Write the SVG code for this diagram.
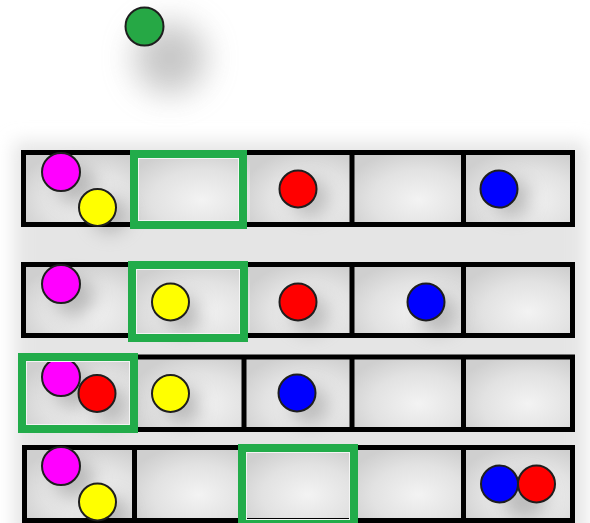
<svg xmlns="http://www.w3.org/2000/svg" width="590" height="523" viewBox="0 0 590 523">
<defs>
<radialGradient id="cellg" cx="0.6" cy="0.65" r="0.7">
<stop offset="0" stop-color="#f3f3f3"/>
<stop offset="0.6" stop-color="#e2e2e2"/>
<stop offset="1" stop-color="#cfcfcf"/>
</radialGradient>
<filter id="blurbg" x="-10%" y="-10%" width="120%" height="120%"><feGaussianBlur stdDeviation="9"/></filter>
<filter id="shad" x="-100%" y="-100%" width="300%" height="300%"><feGaussianBlur stdDeviation="9"/></filter>
<filter id="bigshad" x="-100%" y="-100%" width="300%" height="300%"><feGaussianBlur stdDeviation="16"/></filter>
<style>
.cell{fill:url(#cellg)}
.frame{fill:none;stroke:#000;stroke-width:5}
.div{stroke:#000;stroke-width:5}
.ball{stroke:#1e1e1e;stroke-width:2}
.sh{fill:#8a8a8a;opacity:0.5;filter:url(#shad)}
.sel{fill:none;stroke:#22ac4a;stroke-width:8}
.selin{fill:none;stroke:#f4f4f4;stroke-width:1}
.m{fill:#ff00ff}.y{fill:#ffff00}.r{fill:#ff0000}.b{fill:#0000ff}
</style>
</defs>
<rect width="590" height="523" fill="#ffffff"/>
<rect x="14" y="142" width="572" height="400" fill="#e5e5e5" filter="url(#blurbg)"/>
<g id="ball-top">
<circle cx="170" cy="58" r="36" fill="#9a9a9a" opacity="0.55" filter="url(#bigshad)"/>
<circle class="ball" cx="144.5" cy="26.5" r="19" fill="#26a845" stroke="#4a1a1a"/>
</g>
<g id="row1">
<rect class="cell" x="24" y="153" width="106" height="72"/>
<rect class="cell" x="130" y="153" width="120" height="72"/>
<rect class="cell" x="250" y="153" width="102" height="72"/>
<rect class="cell" x="352" y="153" width="111" height="72"/>
<rect class="cell" x="463" y="153" width="109" height="72"/>
<circle class="sh" cx="76" cy="185" r="20"/><circle class="sh" cx="110" cy="215" r="18"/>
<circle class="sh" cx="310" cy="198" r="19"/><circle class="sh" cx="512" cy="198" r="19"/>
<rect class="frame" x="23.5" y="152.5" width="549" height="72"/>
<line class="div" x1="352" y1="150" x2="352" y2="227"/>
<line class="div" x1="463.5" y1="150" x2="463.5" y2="227"/>
<circle class="ball m" cx="61" cy="172" r="19"/>
<circle class="ball y" cx="97.5" cy="207.5" r="18.5"/>
<circle class="ball r" cx="298" cy="189" r="18.5"/>
<circle class="ball b" cx="499" cy="189" r="18.5"/>
<rect class="sel" x="134" y="154" width="109" height="71"/>
<rect class="selin" x="138.5" y="158.5" width="100" height="62"/>
</g>
<g id="row2">
<rect class="cell" x="24" y="265" width="106" height="72"/>
<rect class="cell" x="130" y="265" width="120" height="72"/>
<rect class="cell" x="250" y="265" width="102" height="72"/>
<rect class="cell" x="352" y="265" width="111" height="72"/>
<rect class="cell" x="463" y="265" width="109" height="72"/>
<circle class="sh" cx="74" cy="297" r="20"/><circle class="sh" cx="183" cy="314" r="18"/>
<circle class="sh" cx="310" cy="314" r="19"/><circle class="sh" cx="438" cy="314" r="19"/>
<rect class="frame" x="23.5" y="264.5" width="549" height="71"/>
<line class="div" x1="352" y1="262" x2="352" y2="338"/>
<line class="div" x1="463.5" y1="262" x2="463.5" y2="338"/>
<circle class="ball m" cx="61" cy="284" r="19"/>
<circle class="ball y" cx="170.5" cy="302" r="18.5"/>
<circle class="ball r" cx="298" cy="302" r="18.5"/>
<circle class="ball b" cx="426" cy="302" r="18.5"/>
<rect class="sel" x="132" y="265" width="112" height="73"/>
<rect class="selin" x="136.5" y="269.5" width="103" height="64"/>
</g>
<g id="row3">
<rect class="cell" x="24" y="357" width="114" height="72"/>
<rect class="cell" x="138" y="357" width="106" height="72"/>
<rect class="cell" x="244" y="357" width="108" height="72"/>
<rect class="cell" x="352" y="357" width="111" height="72"/>
<rect class="cell" x="463" y="357" width="109" height="72"/>
<circle class="sh" cx="74" cy="389" r="20"/><circle class="sh" cx="110" cy="405" r="18"/>
<circle class="sh" cx="183" cy="405" r="18"/><circle class="sh" cx="310" cy="405" r="19"/>
<rect class="frame" x="23.5" y="357" width="549" height="72.5"/>
<line class="div" x1="244" y1="355" x2="244" y2="432"/>
<line class="div" x1="352" y1="355" x2="352" y2="432"/>
<line class="div" x1="463.5" y1="355" x2="463.5" y2="432"/>
<circle class="ball m" cx="61" cy="377" r="19"/>
<circle class="ball r" cx="97" cy="393.5" r="18.5"/>
<circle class="ball y" cx="170.5" cy="393.5" r="18.5"/>
<circle class="ball b" cx="297" cy="393" r="18.5"/>
<rect class="sel" x="22" y="357" width="112" height="72"/>
<rect class="selin" x="26.5" y="361.5" width="103" height="63"/>
</g>
<g id="row4">
<rect class="cell" x="24" y="448" width="110" height="72"/>
<rect class="cell" x="134" y="448" width="108" height="72"/>
<rect class="cell" x="242" y="448" width="110" height="72"/>
<rect class="cell" x="352" y="448" width="111" height="72"/>
<rect class="cell" x="463" y="448" width="109" height="72"/>
<circle class="sh" cx="74" cy="479" r="20"/><circle class="sh" cx="110" cy="514" r="18"/>
<circle class="sh" cx="525" cy="497" r="22"/>
<rect class="frame" x="24.5" y="447.5" width="548" height="73"/>
<line class="div" x1="134.5" y1="445" x2="134.5" y2="523"/>
<line class="div" x1="352" y1="445" x2="352" y2="523"/>
<line class="div" x1="463.5" y1="445" x2="463.5" y2="523"/>
<circle class="ball m" cx="61" cy="466" r="19"/>
<circle class="ball y" cx="97.5" cy="502" r="18.5"/>
<circle class="ball b" cx="499.5" cy="484" r="18.5"/>
<circle class="ball r" cx="536.5" cy="484" r="18.5"/>
<rect class="sel" x="242" y="448" width="112" height="76"/>
<rect class="selin" x="246.5" y="452.5" width="103" height="67"/>
</g>
<g id="connectors"/>
</svg>
